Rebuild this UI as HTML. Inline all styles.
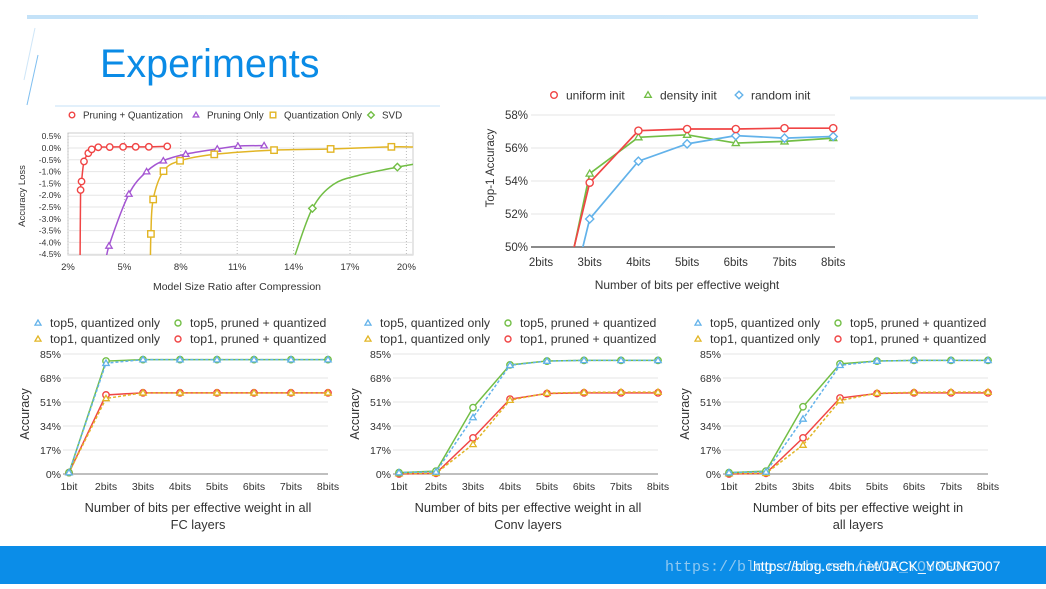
<!DOCTYPE html>
<html><head><meta charset="utf-8">
<style>
body{margin:0;width:1046px;height:584px;overflow:hidden;background:#fff;font-family:"Liberation Sans",sans-serif}
svg text{font-family:"Liberation Sans",sans-serif}
</style></head>
<body>
<svg id="s" width="1046" height="584" viewBox="0 0 1046 584" xmlns="http://www.w3.org/2000/svg">
<defs>
<linearGradient id="tg" x1="0" x2="1"><stop offset="0" stop-color="#c4e2f8"/><stop offset="1" stop-color="#d2eafb"/></linearGradient>
<clipPath id="c1"><rect x="68" y="133" width="345" height="122"/></clipPath>
<clipPath id="c2"><rect x="531" y="105" width="304" height="142"/></clipPath>
</defs>
<rect x="27" y="15" width="951" height="4" fill="url(#tg)"/>
<line x1="35" y1="28" x2="24" y2="80" stroke="#cfe6f8" stroke-width="1"/>
<line x1="38" y1="55" x2="27" y2="105" stroke="#7fbff0" stroke-width="1"/>
<line x1="55" y1="106" x2="440" y2="106" stroke="#e2f0fb" stroke-width="2"/>
<line x1="850" y1="98" x2="1046" y2="98" stroke="#d0e8fa" stroke-width="3"/>
<text x="100" y="77" font-size="39.5" fill="#0a8be6">Experiments</text>
<rect x="0" y="546" width="1046" height="38" fill="#0b8de8"/>
<text x="665" y="571" font-size="15" fill="#8fc8f0" font-family="Liberation Mono" style="font-family:'Liberation Mono',monospace">https://blog.csdn.net/JACK_YOUNG007</text>
<text x="753" y="571" font-size="14" fill="#fff">https://blog.csdn.net/JACK_YOUNG007</text>
<g id="g"></g>
</svg>
<script>
// ---- Chart 1 data (model size ratio % vs accuracy loss %)
const c1XTicks=[2,5,8,11,14,17,20];
const c1YTicks=[0.5,0,-0.5,-1,-1.5,-2,-2.5,-3,-3.5,-4,-4.5];
const pqX=[2.67,2.72,2.85,3.08,3.26,3.61,4.22,4.93,5.6,6.3,7.28];
const pqY=[-1.78,-1.42,-0.57,-0.22,-0.06,0.03,0.04,0.05,0.05,0.05,0.07];
const pqStartX=[2.64],pqStartY=[-5];
const poX=[4.18,5.24,6.18,7.07,8.26,9.94,11.04,12.43];
const poY=[-4.15,-1.95,-1.0,-0.54,-0.26,-0.04,0.08,0.1];
const poStartX=[4.0],poStartY=[-5];
const qoX=[6.41,6.53,7.08,7.96,9.78,12.96,15.97,19.2];
const qoY=[-3.64,-2.18,-0.98,-0.54,-0.27,-0.09,-0.04,0.05];
const qoStartX=[6.38],qoStartY=[-5];const qoEndX=[20.5],qoEndY=[0.04];
const svX=[15.0,19.52];
const svY=[-2.56,-0.81];
const svCurveX=[14.05,15.0,16.1,17.5,19.52,20.5];
const svCurveY=[-4.6,-2.56,-1.55,-1.15,-0.81,-0.67];
// ---- Chart 2 data
const c2Cats=["2bits","3bits","4bits","5bits","6bits","7bits","8bits"];
const c2YTicks=[50,52,54,56,58];
const uniformInit=[41.7,53.9,57.05,57.15,57.15,57.2,57.2];
const densityInit=[40.5,54.45,56.65,56.8,56.3,56.4,56.6];
const randomInit=[39.6,51.7,55.2,56.25,56.75,56.6,56.7];
// ---- Bottom charts
const bCats=["1bit","2bits","3bits","4bits","5bits","6bits","7bits","8bits"];
const bYTicks=[0,17,34,51,68,85];
const fcTop5Q=[1,78.5,81,81,81,81,81,81];
const fcTop5P=[1,80,81,81,81,81,81,81];
const fcTop1Q=[1,53.5,57.5,57.5,57.5,57.5,57.5,57.5];
const fcTop1P=[1,56,57.5,57.5,57.5,57.5,57.5,57.5];
const cvTop5Q=[1,1.5,40,77,80,80.5,80.5,80.5];
const cvTop5P=[1,2,47,77.3,80,80.5,80.5,80.5];
const cvTop1Q=[0.3,0.5,21,52.3,57.3,57.8,58,58];
const cvTop1P=[0,0.5,25.6,53,57,57.5,57.5,57.5];
const alTop5Q=[1,1.5,39,77,80,80.5,80.5,80.5];
const alTop5P=[1,2,47.6,78,80,80.5,80.5,80.5];
const alTop1Q=[0.3,0.5,20.5,52,57.3,57.8,58,58];
const alTop1P=[0,0.5,25.6,53.8,57,57.5,57.5,57.5];

const NS="http://www.w3.org/2000/svg";
const G=document.getElementById('g');
function mk(tag,at,par){const e=document.createElementNS(NS,tag);for(const k in at)e.setAttribute(k,at[k]);(par||G).appendChild(e);return e;}
function txt(x,y,s,size,anchor,fill,par){const t=mk('text',{x:x,y:y,'font-size':size,'text-anchor':anchor||'start',fill:fill||'#333'},par);t.textContent=s;return t;}
const RED='#f04545',PUR='#a455d2',YEL='#e2b525',GRN='#72be45',BLU='#62b2ea';
function marker(type,x,y,col,par,r){r=r||3.3;let e;
 if(type==='o')e=mk('circle',{cx:x,cy:y,r:r,fill:'#fff',stroke:col,'stroke-width':1.4},par);
 else if(type==='t')e=mk('polygon',{points:`${x},${y-r} ${x-r},${y+r*0.7} ${x+r},${y+r*0.7}`,fill:'#fff',stroke:col,'stroke-width':1.3},par);
 else if(type==='s')e=mk('rect',{x:x-r,y:y-r,width:2*r,height:2*r,fill:'#fff',stroke:col,'stroke-width':1.4},par);
 else e=mk('polygon',{points:`${x},${y-r-0.5} ${x+r+0.5},${y} ${x},${y+r+0.5} ${x-r-0.5},${y}`,fill:'#fff',stroke:col,'stroke-width':1.4},par);
 return e;}
function smooth(p){let d=`M${p[0][0]},${p[0][1]}`;for(let i=0;i<p.length-1;i++){const p0=p[i-1]||p[i],p1=p[i],p2=p[i+1],p3=p[i+2]||p2;
 d+=` C${p1[0]+(p2[0]-p0[0])/6},${p1[1]+(p2[1]-p0[1])/6} ${p2[0]-(p3[0]-p1[0])/6},${p2[1]-(p3[1]-p1[1])/6} ${p2[0]},${p2[1]}`;}return d;}
function poly(p){return p.map((q,i)=>(i?'L':'M')+q[0]+','+q[1]).join(' ');}

// ===== Chart 1 =====
(function(){
 const g=mk('g',{});
 
 
 const X=v=>68+(v-2)*18.8, Y=v=>148-v*23.6;
 mk('rect',{x:68,y:133,width:345,height:122,fill:'#fff',stroke:'#ccc'},g);
 c1YTicks.forEach(v=>{const l=mk('line',{x1:68,x2:413,y1:Y(v),y2:Y(v),stroke:'#e6e6e6'},g);
  
  const t=txt(61,Y(v)+3,(v===0?'0.0':v.toFixed(1))+'%',8.5,'end','#333',g);
  });
 c1XTicks.forEach(v=>{const l=mk('line',{x1:X(v),x2:X(v),y1:133,y2:255,stroke:'#bbb','stroke-dasharray':'1,2'},g);
  
  const t=txt(X(v),270,v+'%',9.5,'middle','#333',g);
  });
 const cg=mk('g',{'clip-path':'url(#c1)'},g);
 function series(xs,ys,pre,post,col,m,name,curveX,curveY){
  let pts=[];
  if(curveX){pts=curveX.map((v,i)=>[X(v),Y(curveY[i])]);}
  else{ pre[0].forEach((v,i)=>pts.push([X(v),Y(pre[1][i])]));
   xs.forEach((v,i)=>pts.push([X(v),Y(ys[i])]));
   if(post)post[0].forEach((v,i)=>pts.push([X(v),Y(post[1][i])]));}
  const p=mk('path',{d:smooth(pts),fill:'none',stroke:col,'stroke-width':1.5},cg);
  
  xs.forEach((v,i)=>{const e=marker(m,X(v),Y(ys[i]),col,g,3.2);
   });
 }
 series(pqX,pqY,[pqStartX,pqStartY],null,RED,'o','pruning-quantization');
 series(poX,poY,[poStartX,poStartY],null,PUR,'t','pruning-only');
 series(qoX,qoY,[qoStartX,qoStartY],[qoEndX,qoEndY],YEL,'s','quantization-only');
 series(svX,svY,null,null,GRN,'d','svd',svCurveX,svCurveY);
 const leg=[['Pruning + Quantization',RED,'o',72],['Pruning Only',PUR,'t',196],['Quantization Only',YEL,'s',273],['SVD',GRN,'d',371]];
 leg.forEach(l=>{const e=marker(l[2],l[3],115,l[1],g,2.8);
  
  const t=txt(l[3]+11,118.5,l[0],9.8,'start','#333',g);
  });
 const yt=txt(0,0,'Accuracy Loss',9.5,'middle','#333',g);yt.setAttribute('transform','translate(25,196) rotate(-90)');
 
 const xt=txt(237,290,'Model Size Ratio after Compression',10.5,'middle','#333',g);
 
})();

// ===== Chart 2 =====
(function(){
 const g=mk('g',{});
 
 
 const X=i=>541+i*48.7, Y=v=>247-(v-50)*16.5;
 c2YTicks.forEach(v=>{const l=mk('line',{x1:531,x2:835,y1:Y(v),y2:Y(v),stroke:v===50?'#444':'#e4e4e4','stroke-width':v===50?1.2:1},g);
  
  const t=txt(528,Y(v)+4,v+'%',11.5,'end','#333',g);
  });
 c2Cats.forEach((c,i)=>{const t=txt(X(i),266,c,11.5,'middle','#333',g);
  });
 const cg=mk('g',{'clip-path':'url(#c2)'},g);
 [[densityInit,GRN,'t','density-init'],[randomInit,BLU,'d','random-init'],[uniformInit,RED,'o','uniform-init']].forEach(s=>{
  const pts=s[0].map((v,i)=>[X(i),Y(v)]);
  const p=mk('path',{d:poly(pts),fill:'none',stroke:s[1],'stroke-width':1.7},cg);
  
  pts.forEach((q,i)=>{if(s[0][i]<50)return;const e=marker(s[2],q[0],q[1],s[1],g,3.6);
   });});
 [['uniform init',RED,'o',554],['density init',GRN,'t',648],['random init',BLU,'d',739]].forEach(l=>{
  const e=marker(l[2],l[3],95,l[1],g,3.3);
  const t=txt(l[3]+12,99.5,l[0],12,'start','#333',g);});
 const yt=txt(0,0,'Top-1 Accuracy',11.5,'middle','#333',g);yt.setAttribute('transform','translate(494,168) rotate(-90)');
 
 const xt=txt(687,289,'Number of bits per effective weight',12,'middle','#333',g);
 
})();

// ===== Bottom charts =====
function bottom(ox,name,t5q,t5p,t1q,t1p,title1,title2){
 const g=mk('g',{});
 
 
 const X=i=>ox+i*37, Y=v=>474-v*(120/85);
 bYTicks.forEach(v=>{const l=mk('line',{x1:ox-6,x2:ox+259,y1:Y(v),y2:Y(v),stroke:v===0?'#999':'#e4e4e4','stroke-width':v===0?1.3:1},g);
  
  const t=txt(ox-8,Y(v)+4,v+'%',10.5,'end','#333',g);
  });
 bCats.forEach((c,i)=>{const t=txt(X(i),490,c,10.5,'middle','#333',g);
  });
 [[t1p,RED,'o',null,'top1-pruned'],[t1q,YEL,'t','3,2','top1-quantized'],[t5p,GRN,'o',null,'top5-pruned'],[t5q,BLU,'t','3,2','top5-quantized']].forEach(s=>{
  const pts=s[0].map((v,i)=>[X(i),Y(v)]);
  const at={d:poly(pts),fill:'none',stroke:s[1],'stroke-width':1.5};if(s[3])at['stroke-dasharray']=s[3];
  const p=mk('path',at,g);
  pts.forEach(q=>{const e=marker(s[2],q[0],q[1],s[1],g,3.2);});});
 const lx=ox-31;
 [['top5, quantized only',BLU,'t',lx,323],['top5, pruned + quantized',GRN,'o',lx+140,323],['top1, quantized only',YEL,'t',lx,339],['top1, pruned + quantized',RED,'o',lx+140,339]].forEach(l=>{
  const e=marker(l[2],l[3],l[4],l[1],g,3);
  const t=txt(l[3]+12,l[4]+4,l[0],12.3,'start','#333',g);});
 const yt=txt(0,0,'Accuracy',12.5,'middle','#333',g);yt.setAttribute('transform',`translate(${ox-40},414) rotate(-90)`);
 
 const a=txt(ox+129,512,title1,12.8,'middle','#333',g);
 const b=txt(ox+129,529,title2,12.8,'middle','#333',g);
}
bottom(69,'fc-layers-chart',fcTop5Q,fcTop5P,fcTop1Q,fcTop1P,'Number of bits per effective weight in all','FC layers');
bottom(399,'conv-layers-chart',cvTop5Q,cvTop5P,cvTop1Q,cvTop1P,'Number of bits per effective weight in all','Conv layers');
bottom(729,'all-layers-chart',alTop5Q,alTop5P,alTop1Q,alTop1P,'Number of bits per effective weight in','all layers');
</script>
</body></html>
